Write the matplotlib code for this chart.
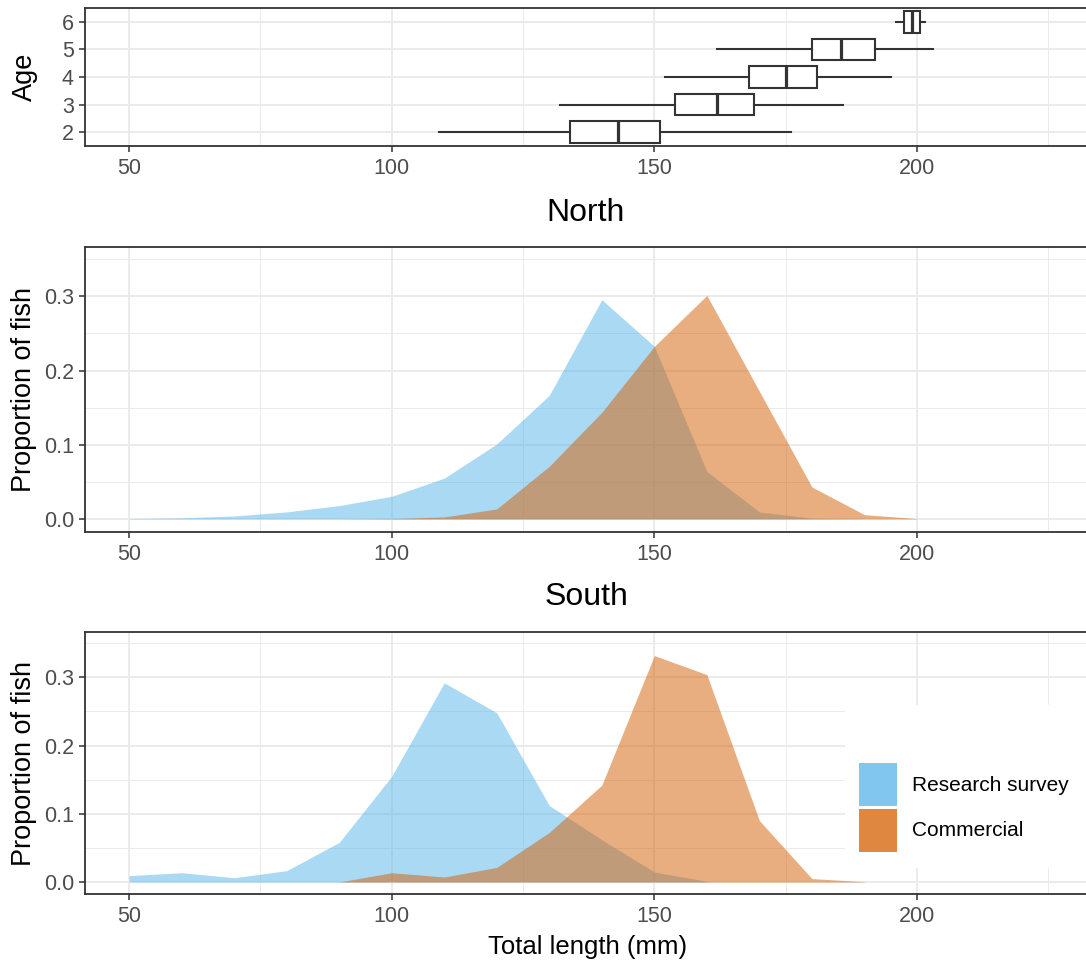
import matplotlib
matplotlib.use("Agg")
import matplotlib.pyplot as plt
from matplotlib.patches import Patch, Rectangle
from matplotlib.ticker import MultipleLocator

# --- data ---
ages = [2, 3, 4, 5, 6]
whisk_lo = [109, 132, 152, 162, 196]
box_q1 = [134, 154, 168, 180, 197.5]
box_med = [143, 162, 175, 185.5, 199]
box_q3 = [151, 169, 181, 192, 200.5]
whisk_hi = [176, 186, 195, 203, 201.5]

north_survey_len = [50, 60, 70, 80, 90, 100, 110, 120, 130, 140, 150, 160, 170, 180, 190]
north_survey_prop = [0.0005, 0.0015, 0.004, 0.0095, 0.018, 0.0305, 0.055, 0.101, 0.1666,
                     0.2955, 0.2326, 0.064, 0.0094, 0.001, 0.0]
north_comm_len = [90, 100, 110, 120, 130, 140, 150, 160, 170, 180, 190, 200]
north_comm_prop = [0.0, 0.0005, 0.0027, 0.0135, 0.071, 0.1437, 0.2326, 0.3013, 0.172,
                   0.0431, 0.0058, 0.0005]

south_survey_len = [50, 60, 70, 80, 90, 100, 110, 120, 130, 140, 150, 160]
south_survey_prop = [0.0093, 0.0136, 0.0063, 0.0166, 0.058, 0.155, 0.292, 0.248, 0.112,
                     0.062, 0.0146, 0.001]
south_comm_len = [90, 100, 110, 120, 130, 140, 150, 160, 170, 180, 190]
south_comm_prop = [0.0, 0.0136, 0.0073, 0.0214, 0.0726, 0.142, 0.332, 0.304, 0.090,
                   0.005, 0.0005]

x_ticks = [50, 100, 150, 200]
y_ticks = [0.0, 0.1, 0.2, 0.3]
legend_labels = ["Research survey", "Commercial"]

SURVEY_COLOR = "#56B4E9"
COMM_COLOR = "#D55E00"
GRID = "#EBEBEB"
DARK = "#333333"
TICK_TXT = "#4D4D4D"

plt.rcParams["font.family"] = ["Liberation Sans", "DejaVu Sans"]

W, H = 1086, 968
fig = plt.figure(figsize=(W / 100, H / 100), dpi=100)


def px_axes(left, top, right, bottom):
    return fig.add_axes([left / W, 1 - bottom / H, (right - left) / W, (bottom - top) / H])


def style_axes(ax):
    ax.set_xlim(41.6, 232.95)
    ax.set_xticks(x_ticks)
    ax.xaxis.set_minor_locator(MultipleLocator(25))
    ax.set_axisbelow(True)
    ax.grid(which="major", color=GRID, lw=1.4)
    ax.grid(which="minor", axis="x", color=GRID, lw=0.7)
    for s in ax.spines.values():
        s.set_color(DARK)
        s.set_linewidth(1.3)
    ax.tick_params(which="major", length=4.5, width=1.1, color=DARK,
                   labelsize=15.5, labelcolor=TICK_TXT)
    ax.tick_params(axis="x", which="major", pad=4)
    ax.tick_params(axis="y", which="major", pad=3.5)
    ax.tick_params(which="minor", length=0)


# --- top: age boxplots ---
ax1 = px_axes(85, 8, 1090, 146)
style_axes(ax1)
stats = []
for i in range(len(ages)):
    stats.append({"whislo": whisk_lo[i], "q1": box_q1[i], "med": box_med[i],
                  "q3": box_q3[i], "whishi": whisk_hi[i], "fliers": []})
ax1.bxp(stats, positions=ages, widths=0.78, orientation="horizontal",
        showcaps=False, showfliers=False, patch_artist=True, manage_ticks=False,
        boxprops=dict(facecolor="white", edgecolor=DARK, linewidth=1.5),
        medianprops=dict(color=DARK, linewidth=2.3),
        whiskerprops=dict(color=DARK, linewidth=1.5))
ax1.set_ylim(1.5, 6.5)
ax1.set_yticks(ages)
ax1.set_yticklabels([str(a) for a in ages])

# --- middle and bottom: length distributions ---
ax2 = px_axes(85, 247, 1090, 532)
ax3 = px_axes(85, 632, 1090, 894)
panels = [
    (ax2, north_survey_len, north_survey_prop, north_comm_len, north_comm_prop),
    (ax3, south_survey_len, south_survey_prop, south_comm_len, south_comm_prop),
]
for ax, sx, sy, cx, cy in panels:
    style_axes(ax)
    ax.yaxis.set_minor_locator(MultipleLocator(0.05))
    ax.grid(which="minor", axis="y", color=GRID, lw=0.7)
    ax.fill_between(sx, 0, sy, color=SURVEY_COLOR, alpha=0.5, lw=0, zorder=2)
    ax.fill_between(cx, 0, cy, color=COMM_COLOR, alpha=0.5, lw=0, zorder=2)
    ax.set_ylim(-0.0176, 0.3665)
    ax.set_yticks(y_ticks)
    ax.set_yticklabels([f"{v:.1f}" for v in y_ticks])

# titles and axis labels
fig.text(586 / W, 1 - 213 / H, "North", fontsize=23, ha="center", va="center")
fig.text(586 / W, 1 - 597 / H, "South", fontsize=23, ha="center", va="center")
fig.text(588 / W, 1 - 947 / H, "Total length (mm)", fontsize=18.5, ha="center", va="center")
fig.text(25 / W, 1 - 77 / H, "Age", fontsize=19.5, rotation=90, ha="center", va="center")
fig.text(24 / W, 1 - 390 / H, "Proportion of fish", fontsize=19.5, rotation=90,
         ha="center", va="center")
fig.text(24 / W, 1 - 763 / H, "Proportion of fish", fontsize=19.5, rotation=90,
         ha="center", va="center")

# legend: white box over the grid, then the keys
ax3.add_patch(Rectangle((845 / W, 1 - 868 / H), (1090 - 845) / W, (868 - 705) / H,
                        transform=fig.transFigure, facecolor="white", edgecolor="none",
                        zorder=4, clip_on=False))
handles = [Patch(facecolor=SURVEY_COLOR, alpha=0.75, edgecolor="none"),
           Patch(facecolor=COMM_COLOR, alpha=0.75, edgecolor="none")]
leg = ax3.legend(handles, legend_labels, loc="upper left",
                 bbox_to_anchor=(859 / W, 1 - 763 / H), bbox_transform=fig.transFigure,
                 frameon=False, borderpad=0, borderaxespad=0, fontsize=15,
                 handlelength=1.82, handleheight=2.8, labelspacing=0.12,
                 handletextpad=0.72)
leg.set_zorder(6)

fig.savefig("out.png", dpi=100)
